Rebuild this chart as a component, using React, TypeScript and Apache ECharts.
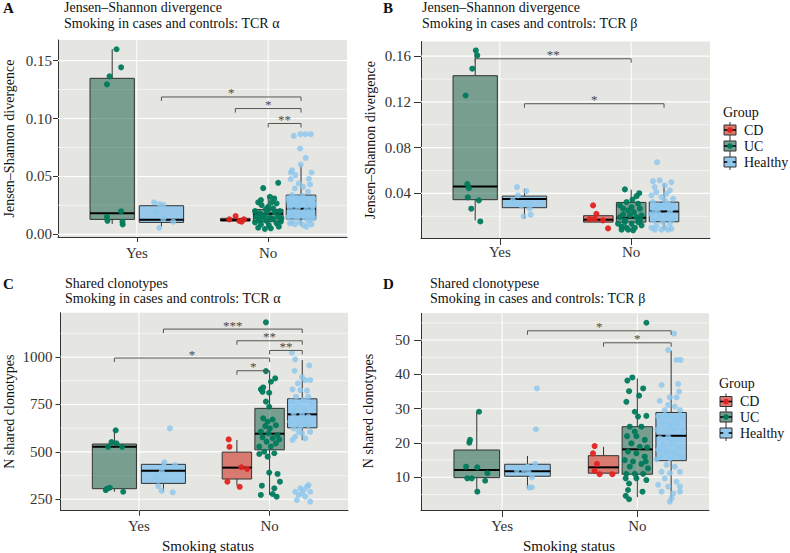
import React, { useEffect, useRef } from 'react';
import * as echarts from 'echarts';

const FONT = 'Liberation Serif';
const groupNames = ['CD', 'UC', 'Healthy'];
const categories = ['Yes', 'No'];
const groupsInCategory: Record<string, string[]> = { Yes: ['UC', 'Healthy'], No: ['CD', 'UC', 'Healthy'] };

// ---------- Panel A: Jensen–Shannon divergence, TCR alpha ----------
const aTicks = [0, 0.05, 0.1, 0.15];
const aMinor = [0.025, 0.075, 0.125];
// [category, group, lower whisker, q1, median, q3, upper whisker]
const aBoxes: any[] = [
  ['Yes', 'UC', 0.0089, 0.0129, 0.0181, 0.1347, 0.1598],
  ['Yes', 'Healthy', 0.0066, 0.0103, 0.0126, 0.0247, 0.0267],
  ['No', 'CD', 0.0115, 0.0115, 0.0123, 0.0138, 0.0138],
  ['No', 'UC', 0.0052, 0.0109, 0.0178, 0.0215, 0.033],
  ['No', 'Healthy', 0.0074, 0.0132, 0.0221, 0.0339, 0.0597],
];
// [jitter, value]
const aYesUC = [[0.033, 0.1598], [0.068, 0.1442], [-0.02, 0.1364], [-0.04, 0.1295], [0.068, 0.0198], [-0.04, 0.0152], [-0.036, 0.0117], [0.078, 0.0109], [0.08, 0.0086]];
const aYesHealthy = [[-0.056, 0.0276], [-0.016, 0.0261], [0.014, 0.0255], [-0.036, 0.0195], [0.014, 0.0132], [0.09, 0.0109], [-0.016, 0.0057]];
const aNoCD = [[-0.046, 0.0129], [0.002, 0.0158], [0.03, 0.0115], [0.065, 0.0129], [0.048, 0.0109]];
const aNoUC = [[-0.038, 0.0399], [0.076, 0.0445], [-0.055, 0.0296], [0.013, 0.0324], [0.046, 0.031], [-0.076, 0.0276], [0.064, 0.0267], [-0.05, 0.0253], [0, 0.0238], [0.025, 0.0276], [-0.018, 0.0218], [-0.1, 0.0201], [-0.063, 0.0181], [0.05, 0.019], [0.089, 0.0201], [-0.089, 0.0152], [-0.03, 0.016], [0.013, 0.0143], [0.076, 0.0152], [-0.071, 0.0123], [-0.013, 0.0115], [0.038, 0.0132], [0.096, 0.0109], [-0.055, 0.0086], [0.005, 0.008], [0.064, 0.0095], [-0.076, 0.0057], [-0.025, 0.0046], [0.081, 0.0066], [0.02, 0.0052], [-0.1, 0.0103], [0.1, 0.0138], [-0.045, 0.0143], [-0.005, 0.0195], [0.038, 0.0224]];
const aNoHealthy = [[-0.055, 0.085], [-0.004, 0.0865], [0.034, 0.0865], [0.075, 0.0865], [-0.007, 0.0741], [0.036, 0.066], [-0.002, 0.0603], [-0.068, 0.0554], [-0.078, 0.0534], [0.08, 0.0534], [-0.042, 0.0511], [0.069, 0.0431], [-0.078, 0.0477], [-0.017, 0.044], [-0.047, 0.0396], [0.016, 0.041], [0.054, 0.0368], [-0.068, 0.0339], [-0.098, 0.031], [-0.034, 0.0316], [0.029, 0.0296], [0.092, 0.031], [-0.072, 0.0267], [-0.009, 0.0276], [0.054, 0.0259], [0.1, 0.0267], [-0.085, 0.0224], [-0.022, 0.023], [0.042, 0.0218], [0.084, 0.021], [-0.06, 0.0181], [0.004, 0.0172], [0.067, 0.0181], [-0.098, 0.0152], [-0.034, 0.0138], [0.029, 0.0143], [0.1, 0.0138], [-0.072, 0.0109], [-0.009, 0.0103], [0.054, 0.0115], [-0.047, 0.0086], [0.016, 0.008], [0.08, 0.0086], [0.042, 0.0066], [-0.085, 0.0095], [0.06, 0.048], [-0.03, 0.0255], [0.01, 0.033], [0.07, 0.0125], [-0.05, 0.02], [0.02, 0.019], [0.09, 0.024], [-0.09, 0.028]];
// [category 1, group 1, category 2, group 2, bracket height, label]
const aSig: any[] = [
  ['Yes', 'Healthy', 'No', 'Healthy', 0.1186, '*'],
  ['No', 'CD', 'No', 'Healthy', 0.1086, '*'],
  ['No', 'UC', 'No', 'Healthy', 0.0957, '**'],
];

// ---------- Panel B: Jensen–Shannon divergence, TCR beta ----------
const bTicks = [0.04, 0.08, 0.12, 0.16];
const bMinor = [0.02, 0.06, 0.1, 0.14];
const bBoxes: any[] = [
  ['Yes', 'UC', 0.0164, 0.0345, 0.0461, 0.1429, 0.165],
  ['Yes', 'Healthy', 0.0179, 0.0275, 0.035, 0.0376, 0.0441],
  ['No', 'CD', 0.0149, 0.0149, 0.017, 0.0205, 0.0222],
  ['No', 'UC', 0.01, 0.0149, 0.0187, 0.0321, 0.0432],
  ['No', 'Healthy', 0.0091, 0.0152, 0.0242, 0.0324, 0.049],
];
const bYesUC = [[0.005, 0.165], [0.016, 0.1606], [-0.022, 0.149], [-0.073, 0.1256], [-0.06, 0.0481], [-0.048, 0.0446], [-0.056, 0.0365], [0.028, 0.0339], [-0.03, 0.0266], [0.039, 0.0155]];
const bYesHealthy = [[-0.057, 0.0455], [0.014, 0.042], [-0.05, 0.0382], [-0.088, 0.0339], [0.027, 0.031], [-0.024, 0.0295], [0.04, 0.0266], [-0.006, 0.0199], [0.047, 0.0214]];
const bNoCD = [[-0.04, 0.0295], [-0.015, 0.0222], [-0.066, 0.0175], [0.036, 0.0164], [0.074, 0.0094], [-0.027, 0.0178]];
const bNoUC = [[-0.048, 0.0435], [0.061, 0.0402], [0.041, 0.0376], [0.01, 0.0345], [-0.035, 0.0324], [-0.086, 0.0295], [-0.061, 0.0266], [-0.023, 0.0251], [0.021, 0.0236], [0.066, 0.0266], [0.079, 0.0207], [-0.086, 0.0193], [-0.048, 0.0164], [0.003, 0.0135], [0.053, 0.0149], [-0.073, 0.0111], [-0.035, 0.01], [0.028, 0.01], [0.079, 0.012], [-0.1, 0.0135], [-0.01, 0.0207], [0.041, 0.0193], [-0.061, 0.0216], [0.066, 0.0164], [-0.073, 0.0083], [-0.023, 0.0083], [0.015, 0.0077], [-0.048, 0.0149], [0.003, 0.028], [0.053, 0.031]];
const bNoHealthy = [[-0.053, 0.0673], [-0.084, 0.0507], [-0.033, 0.0513], [0.056, 0.0498], [-0.071, 0.0455], [0.005, 0.0469], [0.044, 0.0426], [0.018, 0.0397], [-0.058, 0.0411], [-0.096, 0.0382], [-0.02, 0.0368], [0.069, 0.0353], [-0.084, 0.0324], [0.031, 0.031], [-0.046, 0.0295], [-0.008, 0.028], [0.056, 0.0266], [-0.071, 0.0251], [-0.1, 0.0222], [0.018, 0.0207], [-0.033, 0.0193], [0.069, 0.0178], [-0.084, 0.0164], [-0.008, 0.0149], [0.044, 0.0135], [-0.058, 0.012], [0.005, 0.01], [0.056, 0.0091], [-0.071, 0.0083], [-0.02, 0.0083], [0.031, 0.0083], [-0.096, 0.01], [-0.046, 0.0236], [0.044, 0.0236], [0.005, 0.0339]];
const bSig: any[] = [
  ['Yes', 'UC', 'No', 'UC', 0.1577, '**'],
  ['Yes', 'Healthy', 'No', 'Healthy', 0.1184, '*'],
];

// ---------- Panel C: Shared clonotypes, TCR alpha ----------
const cTicks = [250, 500, 750, 1000];
const cMinor = [375, 625, 875, 1125];
const cBoxes: any[] = [
  ['Yes', 'UC', 290, 306, 527.6, 541.5, 614],
  ['Yes', 'Healthy', 292, 334, 401, 434.5, 445],
  ['No', 'CD', 322, 357, 417, 499, 563],
  ['No', 'UC', 273, 511, 596, 729.6, 926],
  ['No', 'Healthy', 562, 627, 698, 780, 984],
];
const cYesUC = [[0.01, 614], [-0.022, 552], [-0.048, 527], [0.059, 527], [0.016, 545], [-0.035, 311], [-0.066, 299], [-0.056, 306], [0.067, 290]];
const cYesHealthy = [[0.05, 624], [0.007, 445], [0.089, 431], [0, 422], [-0.057, 366], [-0.013, 398], [-0.039, 320], [-0.013, 295], [0.071, 287]];
const cNoCD = [[-0.063, 566], [-0.057, 527], [0.034, 419], [0.078, 410], [-0.073, 343], [0.021, 316]];
const cNoUC = [[-0.028, 1183], [-0.028, 926], [0.043, 888], [0.01, 870], [-0.067, 830], [-0.049, 840], [-0.003, 812], [-0.054, 817], [-0.028, 765], [-0.003, 738], [-0.049, 677], [-0.015, 659], [0.023, 671], [-0.034, 636], [0.002, 624], [0.048, 641], [-0.067, 607], [-0.008, 598], [0.061, 589], [-0.054, 577], [0.023, 572], [-0.023, 554], [0.048, 545], [-0.079, 528], [0.01, 528], [0.074, 566], [-0.041, 501], [-0.079, 489], [0.036, 493], [-0.015, 475], [-0.003, 391], [0.061, 384], [0.079, 343], [-0.059, 322], [0.036, 308], [-0.067, 273], [0.023, 278], [0.054, 264]];
const cNoHealthy = [[-0.079, 1023], [-0.054, 988], [0.054, 956], [-0.059, 928], [-0.002, 893], [0.023, 879], [-0.033, 861], [0.061, 879], [-0.074, 830], [-0.015, 826], [0.036, 823], [-0.048, 791], [0.01, 773], [-0.084, 765], [0.069, 756], [-0.028, 738], [0.023, 721], [-0.066, 703], [-0.002, 694], [0.048, 686], [-0.041, 668], [-0.092, 659], [0.023, 650], [-0.015, 633], [-0.066, 624], [0.061, 606], [-0.002, 598], [-0.054, 580], [0.023, 571], [-0.074, 563], [-0.028, 606], [0.048, 642], [0.01, 677], [-0.054, 729], [0.046, 791], [-0.054, 290], [-0.015, 308], [0.01, 299], [0.048, 325], [0.061, 290], [-0.028, 273], [0.023, 264], [-0.041, 246], [0.061, 238], [-0.002, 281], [0.036, 317]];
const cSig: any[] = [
  ['Yes', 'Healthy', 'No', 'Healthy', 1147.6, '***'],
  ['No', 'CD', 'No', 'Healthy', 1086, '**'],
  ['No', 'UC', 'No', 'Healthy', 1035, '**'],
  ['Yes', 'UC', 'No', 'UC', 995, '*'],
  ['No', 'CD', 'No', 'UC', 928, '*'],
];

// ---------- Panel D: Shared clonotypes, TCR beta ----------
const dTicks = [10, 20, 30, 40, 50];
const dMinor = [5, 15, 25, 35, 45, 55];
const dBoxes: any[] = [
  ['Yes', 'UC', 5.8, 9.9, 12.1, 17.95, 29.1],
  ['Yes', 'Healthy', 6.8, 10.3, 11.8, 13.8, 16.2],
  ['No', 'CD', 11.2, 11.2, 12.9, 16.3, 18.9],
  ['No', 'UC', 4.2, 10.9, 18.15, 24.75, 38.8],
  ['No', 'Healthy', 2.9, 14.85, 22.1, 28.9, 46.9],
];
const dYesUC = [[0.017, 29.1], [-0.05, 20.9], [-0.055, 20.1], [-0.079, 13.1], [0.004, 12.9], [-0.07, 9.7], [-0.037, 9.7], [0.062, 9], [0.079, 11.2], [0.004, 5.8]];
const dYesHealthy = [[0.07, 35.9], [0.062, 24], [-0.079, 12.1], [-0.03, 12.3], [0, 13.1], [0.057, 13.9], [0.007, 11.6], [0.033, 10], [0.013, 7], [0.033, 7.1]];
const dNoCD = [[-0.066, 19.1], [-0.078, 17], [-0.049, 13.9], [-0.066, 11.9], [-0.029, 10.9], [0.065, 10.9]];
const dNoUC = [[0.067, 55.05], [-0.074, 38.2], [-0.037, 39.1], [-0.061, 35.1], [0.043, 35.9], [0.013, 33.8], [-0.081, 32], [-0.019, 29.1], [0.005, 27.7], [0.067, 27.9], [-0.056, 24.75], [0.03, 24.75], [-0.076, 22], [-0.007, 22], [0.055, 20.9], [-0.044, 19.9], [0.018, 18.9], [0.072, 18.7], [-0.069, 17.5], [-0.007, 17], [0.055, 16], [-0.093, 15], [-0.032, 14.6], [0.03, 13.9], [-0.056, 13.1], [0.079, 12.6], [-0.081, 11], [-0.019, 11], [0.043, 11], [-0.086, 9.7], [-0.007, 9.7], [0.067, 9.2], [-0.061, 8.2], [-0.069, 6.3], [0.038, 5.8], [-0.086, 4.6], [-0.061, 3.6], [-0.019, 23.3], [0.062, 14.6]];
const dNoHealthy = [[0.022, 51.9], [-0.022, 47.1], [0.04, 44.2], [0.07, 44.2], [-0.071, 36.9], [0.052, 37.2], [0.059, 35], [-0.01, 33.3], [0.04, 33.3], [-0.084, 32.3], [-0.022, 31.1], [0.027, 30.6], [-0.047, 29.6], [0.065, 29.6], [-0.096, 27.7], [-0.034, 27.9], [0.015, 27.2], [0.077, 27.7], [-0.071, 25.7], [-0.01, 25.2], [0.04, 25.7], [-0.104, 23.8], [-0.039, 23.3], [0.02, 23.8], [0.089, 23.3], [-0.084, 21.4], [-0.022, 21.8], [0.035, 20.9], [-0.059, 19.4], [0.003, 19.9], [0.065, 18.9], [-0.096, 18], [-0.034, 17.5], [0.027, 17], [-0.071, 16], [-0.01, 15.5], [0.077, 16], [-0.108, 15.2], [-0.034, 13.6], [0.027, 13.1], [-0.071, 11.6], [-0.01, 11.2], [0.065, 11.6], [-0.047, 9.7], [0.04, 8.7], [-0.096, 7.8], [-0.022, 7.3], [0.065, 7.3], [-0.071, 5.8], [0.015, 5.3], [0.065, 5.8], [-0.01, 2.9], [0.003, 3.9]];
const dSig: any[] = [
  ['Yes', 'Healthy', 'No', 'Healthy', 52.7, '*'],
  ['No', 'CD', 'No', 'Healthy', 49.2, '*'],
];

// ---------- styles ----------
const pointColor: Record<string, string> = { CD: '#E2231F', UC: '#007A5C', Healthy: '#8CC7EE' };
const pointOpacity: Record<string, number> = { CD: 0.95, UC: 0.95, Healthy: 0.8 };
const boxFill: Record<string, string> = { CD: 'rgba(206,50,36,0.6)', UC: 'rgba(30,100,75,0.55)', Healthy: 'rgba(95,180,240,0.6)' };
const BG = '#E5E5E2';
const INK = '#333333';

function xPos(cat: string, grp: string) {
  const list = groupsInCategory[cat];
  const w = 0.75 / list.length;
  return categories.indexOf(cat) + 1 - 0.375 + w * (list.indexOf(grp) + 0.5);
}
function halfWidth(cat: string) {
  return (0.75 / groupsInCategory[cat].length) * 0.9 / 2;
}

const panels: any[] = [
  {
    letter: 'A', title1: 'Jensen–Shannon divergence', title2: 'Smoking in cases and controls: TCR α',
    ytitle: 'Jensen–Shannon divergence', xtitle: '',
    grid: { left: 58, top: 40, width: 289, height: 197 }, xMax: 2.6, yMin: -0.0023, yMax: 0.1678,
    ticks: aTicks, minor: aMinor, dec: 2, boxes: aBoxes, sig: aSig,
    points: { CD: [['No', aNoCD]], UC: [['Yes', aYesUC], ['No', aNoUC]], Healthy: [['Yes', aYesHealthy], ['No', aNoHealthy]] },
    tickLen: 5, yMargin: 6, xMargin: 8, letterPos: [3, 8], titlePos: [64, 7.5, 23.5], ytitlePos: [9, 138.5],
  },
  {
    letter: 'B', title1: 'Jensen–Shannon divergence', title2: 'Smoking in cases and controls: TCR β',
    ytitle: 'Jensen–Shannon divergence', xtitle: '',
    grid: { left: 421, top: 41.5, width: 289, height: 196.5 }, xMax: 2.6, yMin: 0.001, yMax: 0.1728,
    ticks: bTicks, minor: bMinor, dec: 2, boxes: bBoxes, sig: bSig,
    points: { CD: [['No', bNoCD]], UC: [['Yes', bYesUC], ['No', bNoUC]], Healthy: [['Yes', bYesHealthy], ['No', bNoHealthy]] },
    tickLen: 7, yMargin: 10, xMargin: 6, letterPos: [383, 8], titlePos: [422, 7.5, 23.5], ytitlePos: [370, 140],
    legend: { x: 723, title: 112, rows: [130, 146, 162], textX: 744 },
  },
  {
    letter: 'C', title1: 'Shared clonotypes', title2: 'Smoking in cases and controls: TCR α',
    ytitle: 'N shared clonotypes', xtitle: 'Smoking status',
    grid: { left: 60.5, top: 312.7, width: 287.5, height: 198 }, xMax: 2.6, yMin: 190, yMax: 1234,
    ticks: cTicks, minor: cMinor, dec: 0, boxes: cBoxes, sig: cSig,
    points: { CD: [['No', cNoCD]], UC: [['Yes', cYesUC], ['No', cNoUC]], Healthy: [['Yes', cYesHealthy], ['No', cNoHealthy]] },
    tickLen: 5, yMargin: 8, xMargin: 8, letterPos: [3, 283.5], titlePos: [65, 283, 298.5], ytitlePos: [9, 411.7], xtitlePos: [208, 546],
  },
  {
    letter: 'D', title1: 'Shared clonotypese', title2: 'Smoking in cases and controls: TCR β',
    ytitle: 'N shared clonotypes', xtitle: 'Smoking status',
    grid: { left: 421, top: 313.3, width: 288, height: 196.7 }, xMax: 2.53, yMin: 0.47, yMax: 57.8,
    ticks: dTicks, minor: dMinor, dec: 0, boxes: dBoxes, sig: dSig,
    points: { CD: [['No', dNoCD]], UC: [['Yes', dYesUC], ['No', dNoUC]], Healthy: [['Yes', dYesHealthy], ['No', dNoHealthy]] },
    tickLen: 7, yMargin: 11, xMargin: 8, letterPos: [383, 283.5], titlePos: [430, 283, 298.5], ytitlePos: [368, 411], xtitlePos: [569, 546],
    legend: { x: 719, title: 383.5, rows: [401.5, 417, 433], textX: 740 },
  },
];

function buildOption() {
  const grid: any[] = [];
  const xAxis: any[] = [];
  const yAxis: any[] = [];
  const series: any[] = [];
  const graphic: any[] = [];

  panels.forEach((p, i) => {
    grid.push({ ...p.grid, show: true, backgroundColor: BG, borderWidth: 0 });
    xAxis.push({
      type: 'value', gridIndex: i, min: 0.4, max: p.xMax,
      axisLine: { show: true, onZero: false, lineStyle: { color: INK, width: 1 } },
      axisTick: { show: true, customValues: [1, 2], length: p.tickLen, lineStyle: { color: INK } },
      axisLabel: { customValues: [1, 2], formatter: (v: number) => (v < 1.5 ? categories[0] : categories[1]), fontSize: 15, color: INK, fontFamily: FONT, margin: p.xMargin },
      splitLine: { show: false },
    });
    yAxis.push({
      type: 'value', gridIndex: i, min: p.yMin, max: p.yMax,
      axisLine: { show: true, onZero: false, lineStyle: { color: INK, width: 1 } },
      axisTick: { show: true, customValues: p.ticks, length: p.tickLen, lineStyle: { color: INK } },
      axisLabel: { customValues: p.ticks, formatter: (v: number) => v.toFixed(p.dec), fontSize: 15, color: INK, fontFamily: FONT, margin: p.yMargin },
      splitLine: { show: false },
    });

    // grid lines
    const gl: number[][] = [];
    p.minor.forEach((v: number) => gl.push([v, 0, 0]));
    p.ticks.forEach((v: number) => gl.push([v, 1, 0]));
    [1, 2].forEach((v) => gl.push([v, 1, 1]));
    series.push({
      type: 'custom', xAxisIndex: i, yAxisIndex: i, z: 1, silent: true, data: gl,
      renderItem: (params: any, api: any) => {
        const cs = params.coordSys;
        const v = api.value(0), major = api.value(1), orient = api.value(2);
        const style = { stroke: '#ffffff', lineWidth: major ? 1.1 : 0.55 };
        if (orient === 0) {
          const y = api.coord([1, v])[1];
          return { type: 'line', shape: { x1: cs.x, y1: y, x2: cs.x + cs.width, y2: y }, style };
        }
        const x = api.coord([v, p.yMin])[0];
        return { type: 'line', shape: { x1: x, y1: cs.y, x2: x, y2: cs.y + cs.height }, style };
      },
    });

    // boxes
    const bx = p.boxes.map((b: any[]) => [xPos(b[0], b[1]), b[2], b[3], b[4], b[5], b[6], halfWidth(b[0]), groupNames.indexOf(b[1])]);
    series.push({
      type: 'custom', xAxisIndex: i, yAxisIndex: i, z: 2, silent: true, data: bx,
      renderItem: (params: any, api: any) => {
        const x = api.value(0), hw = api.value(6), g = groupNames[api.value(7)];
        const cx = api.coord([x, api.value(3)])[0];
        const yLo = api.coord([x, api.value(1)])[1];
        const yQ1 = api.coord([x, api.value(2)])[1];
        const yMed = api.coord([x, api.value(3)])[1];
        const yQ3 = api.coord([x, api.value(4)])[1];
        const yHi = api.coord([x, api.value(5)])[1];
        const xl = api.coord([x - hw, 0])[0];
        const xr = api.coord([x + hw, 0])[0];
        return {
          type: 'group', children: [
            { type: 'line', shape: { x1: cx, y1: yLo, x2: cx, y2: yQ1 }, style: { stroke: INK, lineWidth: 1 } },
            { type: 'line', shape: { x1: cx, y1: yQ3, x2: cx, y2: yHi }, style: { stroke: INK, lineWidth: 1 } },
            { type: 'rect', shape: { x: xl, y: yQ3, width: xr - xl, height: yQ1 - yQ3 }, style: { fill: boxFill[g], stroke: INK, lineWidth: 1 } },
            { type: 'line', shape: { x1: xl, y1: yMed, x2: xr, y2: yMed }, style: { stroke: '#000', lineWidth: 2 } },
          ],
        };
      },
    });

    // points
    groupNames.forEach((g) => {
      const list = p.points[g] || [];
      const data: number[][] = [];
      list.forEach(([cat, arr]: any) => arr.forEach((pt: number[]) => data.push([xPos(cat, g) + pt[0], pt[1]])));
      series.push({
        type: 'scatter', xAxisIndex: i, yAxisIndex: i, z: 3, silent: true, symbolSize: 6, data,
        itemStyle: { color: pointColor[g], opacity: pointOpacity[g] },
      });
    });

    // significance brackets
    const labels = p.sig.map((s: any[]) => s[5]);
    const sd = p.sig.map((s: any[], k: number) => [xPos(s[0], s[1]), xPos(s[2], s[3]), s[4], k]);
    series.push({
      type: 'custom', xAxisIndex: i, yAxisIndex: i, z: 4, silent: true, data: sd,
      renderItem: (params: any, api: any) => {
        const y = api.value(2);
        const p1 = api.coord([api.value(0), y]);
        const p2 = api.coord([api.value(1), y]);
        const tip = 4;
        return {
          type: 'group', children: [
            { type: 'polyline', shape: { points: [[p1[0], p1[1] + tip], [p1[0], p1[1]], [p2[0], p2[1]], [p2[0], p2[1] + tip]] }, style: { stroke: '#555', lineWidth: 1, fill: null } },
            { type: 'text', x: (p1[0] + p2[0]) / 2, y: p1[1] - 4, style: { text: labels[api.value(3)], align: 'center', verticalAlign: 'middle', fill: '#4a4a4a', font: `13px "${FONT}"` } },
          ],
        };
      },
    });

    // texts
    graphic.push({ type: 'text', x: p.letterPos[0], y: p.letterPos[1], style: { text: p.letter, font: `bold 15px "${FONT}"`, fill: '#111', align: 'left', verticalAlign: 'middle' } });
    graphic.push({ type: 'text', x: p.titlePos[0], y: p.titlePos[1], style: { text: p.title1, font: `14px "${FONT}"`, fill: '#111', align: 'left', verticalAlign: 'middle' } });
    graphic.push({ type: 'text', x: p.titlePos[0], y: p.titlePos[2], style: { text: p.title2, font: `14px "${FONT}"`, fill: '#111', align: 'left', verticalAlign: 'middle' } });
    graphic.push({ type: 'text', x: p.ytitlePos[0], y: p.ytitlePos[1], rotation: Math.PI / 2, style: { text: p.ytitle, font: `14px "${FONT}"`, fill: '#111', align: 'center', verticalAlign: 'middle' } });
    if (p.xtitle) {
      graphic.push({ type: 'text', x: p.xtitlePos[0], y: p.xtitlePos[1], style: { text: p.xtitle, font: `15px "${FONT}"`, fill: '#111', align: 'center', verticalAlign: 'middle' } });
    }
    if (p.legend) {
      const L = p.legend;
      graphic.push({ type: 'text', x: L.x, y: L.title, style: { text: 'Group', font: `14px "${FONT}"`, fill: '#111', align: 'left', verticalAlign: 'middle' } });
      groupNames.forEach((g, k) => {
        const cy = L.rows[k];
        const cx = L.x + 7;
        graphic.push({ type: 'line', shape: { x1: cx, y1: cy - 8, x2: cx, y2: cy + 8 }, style: { stroke: INK, lineWidth: 1 } });
        graphic.push({ type: 'rect', shape: { x: L.x + 1, y: cy - 5, width: 12, height: 10 }, style: { fill: BG, stroke: 'none' } });
        graphic.push({ type: 'rect', shape: { x: L.x + 1, y: cy - 5, width: 12, height: 10 }, style: { fill: boxFill[g], stroke: INK, lineWidth: 1 } });
        graphic.push({ type: 'line', shape: { x1: L.x + 1, y1: cy, x2: L.x + 13, y2: cy }, style: { stroke: '#000', lineWidth: 1.5 } });
        graphic.push({ type: 'circle', shape: { cx, cy, r: 2.8 }, style: { fill: pointColor[g] } });
        graphic.push({ type: 'text', x: L.textX, y: cy, style: { text: g, font: `14px "${FONT}"`, fill: '#111', align: 'left', verticalAlign: 'middle' } });
      });
    }
  });

  return {
    animation: false,
    backgroundColor: '#ffffff',
    textStyle: { fontFamily: FONT },
    grid, xAxis, yAxis, series, graphic,
  };
}

export default function App() {
  const ref = useRef<HTMLDivElement>(null);
  useEffect(() => {
    if (!ref.current) return;
    const chart = echarts.init(ref.current, null, { renderer: 'svg' });
    chart.setOption(buildOption() as any);
    return () => chart.dispose();
  }, []);
  return <div ref={ref} style={{ position: 'absolute', left: 0, top: 0, width: 790, height: 553, background: '#fff' }} />;
}
